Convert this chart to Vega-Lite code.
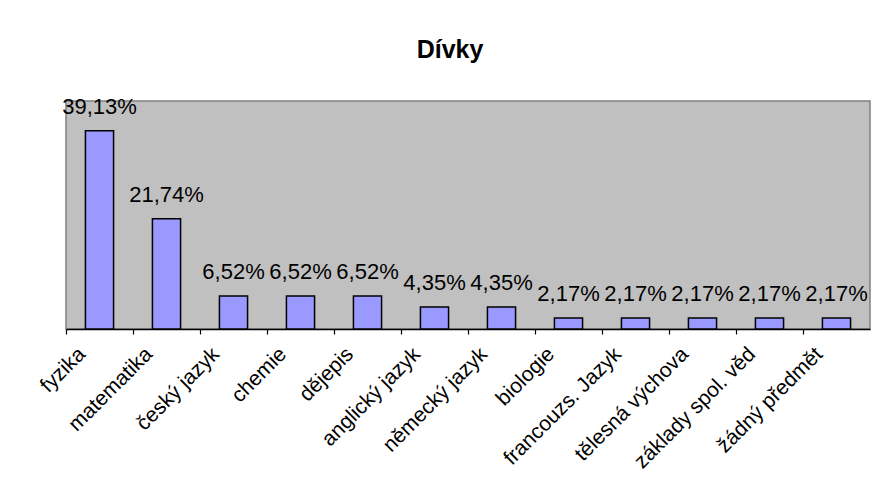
{
  "$schema": "https://vega.github.io/schema/vega-lite/v6.json",
  "width": 804,
  "height": 228,
  "autosize": "none",
  "padding": {"left": 66, "top": 101, "right": 2, "bottom": 155},
  "background": "white",
  "title": {
    "text": "Dívky",
    "font": "Liberation Sans",
    "fontSize": 25,
    "fontWeight": "bold",
    "color": "black",
    "anchor": "middle",
    "dx": -18,
    "offset": 33
  },
  "config": {
    "locale": {"number": {"decimal": ",", "thousands": " ", "grouping": [3], "currency": ["", " Kč"]}},
    "view": {"fill": "#C0C0C0", "stroke": "#808080", "strokeWidth": 1.5},
    "font": "Liberation Sans"
  },
  "data": {
    "values": [
      {"predmet": "fyzika", "podil": 0.3913},
      {"predmet": "matematika", "podil": 0.2174},
      {"predmet": "český jazyk", "podil": 0.0652},
      {"predmet": "chemie", "podil": 0.0652},
      {"predmet": "dějepis", "podil": 0.0652},
      {"predmet": "anglický jazyk", "podil": 0.0435},
      {"predmet": "německý jazyk", "podil": 0.0435},
      {"predmet": "biologie", "podil": 0.0217},
      {"predmet": "francouzs. Jazyk", "podil": 0.0217},
      {"predmet": "tělesná výchova", "podil": 0.0217},
      {"predmet": "základy spol. věd", "podil": 0.0217},
      {"predmet": "žádný předmět", "podil": 0.0217}
    ]
  },
  "encoding": {
    "x": {
      "field": "predmet",
      "type": "nominal",
      "sort": null,
      "scale": {"paddingInner": 0.58, "paddingOuter": 0.29},
      "axis": {
        "title": null,
        "labelAngle": -45,
        "labelFont": "Liberation Sans",
        "labelFontSize": 21,
        "labelColor": "black",
        "labelLimit": 400,
        "domainColor": "black",
        "domainWidth": 1.5,
        "tickColor": "black",
        "tickWidth": 1.2,
        "tickSize": 5,
        "bandPosition": 0,
        "tickOffset": -19.5,
        "labelOffset": -6,
        "labelPadding": 9
      }
    },
    "y": {
      "field": "podil",
      "type": "quantitative",
      "scale": {"domain": [0, 0.45]},
      "axis": null
    }
  },
  "layer": [
    {
      "mark": {"type": "bar", "fill": "#9999FF", "stroke": "black", "strokeWidth": 1.5}
    },
    {
      "mark": {"type": "text", "baseline": "alphabetic", "dy": -17, "fontSize": 22, "font": "Liberation Sans", "color": "black"},
      "encoding": {
        "text": {"field": "podil", "type": "quantitative", "format": ".2%"}
      }
    }
  ]
}
